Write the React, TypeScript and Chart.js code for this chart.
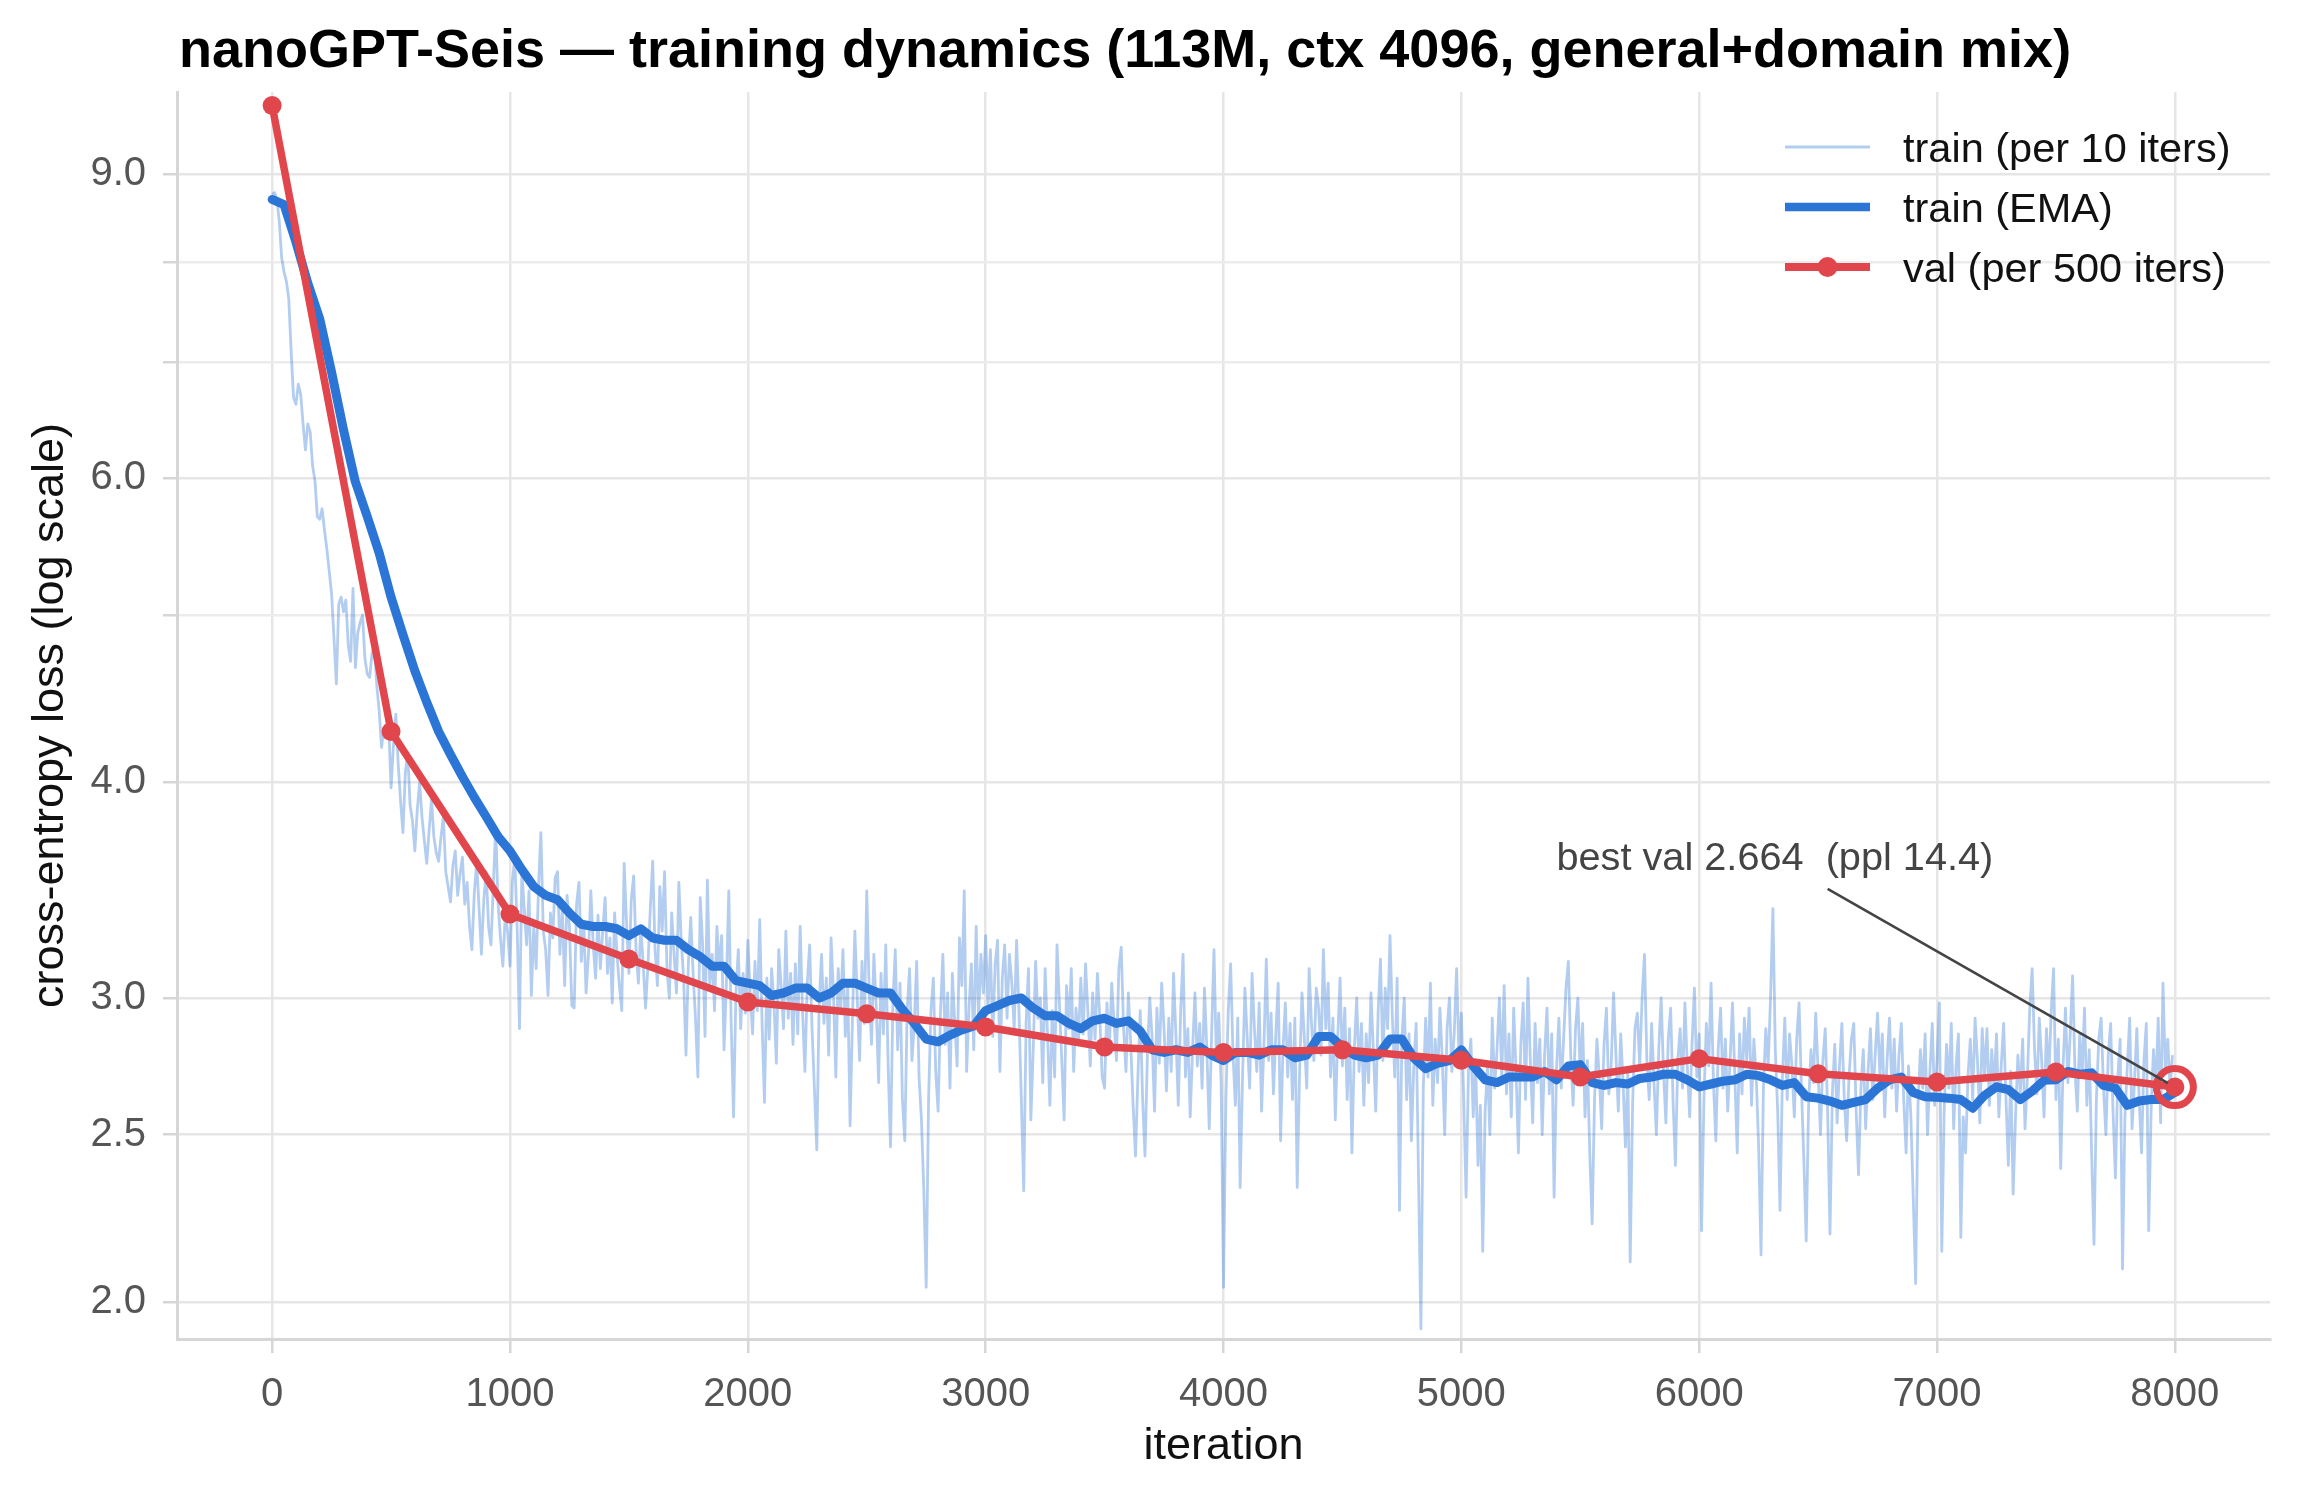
import { useEffect, useRef } from "react"
import { Chart, registerables } from "chart.js"

Chart.register(...registerables)

const FONT = "'Liberation Sans', Arial, sans-serif"
const BLUE = "#2b75d6"
const RED = "#e0464b"
const RAW_BLUE = "rgba(43, 117, 214, 0.36)"

const TITLE = "nanoGPT-Seis — training dynamics (113M, ctx 4096, general+domain mix)"
const X_TICKS = [0, 1000, 2000, 3000, 4000, 5000, 6000, 7000, 8000]
const Y_TICKS = [2, 2.5, 3, 4, 5, 6, 7, 8, 9]
const Y_LABELED = [2, 2.5, 3, 4, 6, 9]

// train loss, one value every 10 iterations (0 .. 7990)
const RAW_STEP = 10
const trainRaw = [
  8.76, 8.78, 8.70, 8.45, 8.05, 7.90, 7.80, 7.62, 7.10, 6.68, 6.62, 6.80, 6.71, 6.45, 6.23, 6.45, 6.38, 6.10, 5.98, 5.70,
  5.68, 5.76, 5.60, 5.46, 5.30, 5.14, 4.85, 4.56, 5.07, 5.12, 5.02, 5.10, 4.80, 4.70, 5.18, 4.66, 4.88, 4.95, 5.00, 4.72,
  4.62, 4.60, 4.75, 4.80, 4.55, 4.40, 4.19, 4.30, 4.25, 4.32, 3.97, 4.20, 4.38, 4.10, 3.90, 3.74, 4.05, 4.16, 3.88, 3.80,
  3.65, 3.85, 4.00, 3.82, 3.70, 3.59, 3.75, 3.91, 3.72, 3.64, 3.60, 3.72, 3.82, 3.55, 3.48, 3.41, 3.58, 3.65, 3.44, 3.54,
  3.62, 3.40, 3.50, 3.30, 3.20, 3.45, 3.60, 3.38, 3.18, 3.42, 3.55, 3.30, 3.22, 3.48, 3.77, 3.40, 3.25, 3.13, 3.35, 3.28,
  3.13, 3.50, 3.62, 3.30, 2.88, 3.55, 3.38, 3.22, 3.46, 3.01, 3.30, 3.12, 3.48, 3.74, 3.28, 3.20, 3.01, 3.36, 3.25, 3.52,
  3.55, 3.18, 3.38, 3.05, 3.44, 3.30, 2.97, 2.96, 3.40, 3.50, 3.15, 3.32, 3.02, 3.18, 3.46, 3.22, 3.08, 3.35, 3.12, 3.28,
  3.43, 3.10, 3.25, 2.98, 3.36, 3.18, 3.05, 2.95, 3.59, 3.32, 3.10, 3.42, 3.53, 3.20, 3.06, 3.30, 3.14, 2.96, 3.13, 3.38,
  3.60, 3.20, 3.05, 3.48, 3.28, 3.55, 3.12, 3.00, 3.36, 3.18, 3.02, 3.50, 3.24, 3.08, 2.78, 3.14, 3.34, 3.10, 2.92, 2.70,
  3.43, 3.22, 2.85, 3.51, 3.05, 3.18, 2.95, 3.30, 3.12, 3.26, 2.80, 3.06, 3.46, 2.90, 2.56, 3.02, 3.20, 2.88, 3.10, 2.94,
  3.24, 3.02, 2.86, 3.15, 2.95, 3.33, 2.90, 2.61, 3.08, 2.84, 3.12, 2.98, 2.75, 3.20, 3.05, 2.88, 3.28, 2.92, 3.10, 2.82,
  3.14, 2.86, 3.30, 2.95, 2.72, 3.06, 3.22, 2.88, 2.66, 2.45, 2.98, 3.18, 2.90, 3.08, 2.78, 3.25, 3.02, 2.70, 3.12, 2.94,
  3.20, 2.85, 3.05, 2.53, 2.92, 3.28, 3.00, 2.76, 3.15, 2.90, 3.46, 3.04, 2.82, 3.18, 2.96, 2.68, 3.10, 2.86, 3.22, 2.74,
  2.46, 2.98, 3.20, 2.80, 3.06, 2.62, 2.48, 2.95, 3.12, 2.76, 2.90, 3.15, 2.70, 2.55, 2.32, 2.04, 2.62, 2.95, 3.08, 2.72,
  2.58, 2.94, 3.18, 2.82, 3.02, 2.66, 3.10, 2.90, 2.74, 3.25, 3.05, 3.46, 2.72, 2.96, 3.14, 2.80, 3.30, 2.92, 3.18, 3.02,
  3.26, 2.96, 3.20, 2.85, 3.14, 3.24, 2.72, 3.08, 3.22, 2.92, 3.18, 3.06, 2.88, 3.24, 2.95, 2.62, 2.32, 2.90, 3.12, 2.55,
  2.80, 3.15, 2.92, 3.00, 2.68, 3.12, 2.86, 2.60, 2.95, 2.70, 3.22, 2.98, 2.76, 2.55, 3.05, 2.88, 3.12, 2.72, 2.96, 2.82,
  3.08, 2.86, 3.14, 2.94, 2.74, 3.02, 2.84, 3.10, 2.92, 2.70, 2.66, 2.98, 2.80, 3.06, 2.90, 2.76, 3.12, 3.21, 2.88, 2.72,
  3.02, 2.82, 2.60, 2.43, 2.70, 2.95, 2.62, 2.43, 2.78, 3.00, 2.84, 2.58, 2.96, 2.75, 3.06, 2.88, 2.65, 2.92, 2.72, 3.10,
  2.85, 2.60, 2.95, 3.18, 2.70, 2.88, 2.56, 2.80, 3.02, 2.74, 2.90, 2.66, 3.04, 2.80, 2.52, 2.86, 3.20, 2.76, 2.94, 2.68,
  2.04, 2.62, 2.95, 3.14, 2.78, 2.60, 2.92, 2.33, 2.70, 3.04, 2.84, 2.66, 3.10, 2.88, 2.72, 2.98, 2.58, 2.82, 3.16, 2.76,
  2.94, 2.64, 2.86, 3.06, 2.48, 2.80, 2.98, 2.70, 2.90, 2.62, 2.92, 2.33, 2.72, 3.02, 2.84, 2.66, 3.12, 2.90, 2.76, 3.04,
  2.96, 2.78, 3.20, 2.88, 3.06, 2.70, 2.92, 2.55, 2.84, 3.08, 2.74, 2.96, 2.62, 2.88, 2.44, 2.80, 3.00, 2.72, 2.90, 2.60,
  2.86, 2.68, 3.02, 2.80, 2.58, 2.94, 3.16, 2.76, 3.04, 2.88, 3.26, 2.92, 2.70, 3.08, 2.26, 2.84, 3.00, 2.62, 2.86, 2.48,
  2.74, 2.90, 2.36, 1.93, 2.66, 2.92, 2.70, 3.06, 2.60, 2.84, 2.68, 2.96, 2.76, 2.50, 2.88, 3.00, 2.72, 2.86, 3.12, 2.78,
  2.94, 2.62, 2.30, 2.72, 2.84, 2.56, 2.76, 2.40, 2.60, 2.14, 2.58, 2.74, 2.50, 2.92, 2.66, 2.80, 3.00, 2.70, 3.05, 2.64,
  2.86, 2.56, 2.96, 2.72, 2.44, 2.82, 2.98, 2.62, 3.08, 2.76, 2.54, 2.90, 2.68, 2.84, 2.50, 2.78, 2.96, 2.64, 2.86, 2.30,
  2.72, 2.92, 2.66, 2.84, 3.04, 3.15, 2.78, 2.60, 2.88, 3.00, 2.70, 2.90, 2.56, 2.76, 2.44, 2.22, 2.62, 2.84, 2.70, 2.52,
  2.82, 2.96, 2.64, 2.74, 3.02, 2.78, 2.58, 2.86, 2.68, 2.46, 2.72, 2.11, 2.60, 2.88, 2.94, 2.74, 3.00, 3.18, 2.76, 2.62,
  2.90, 2.68, 2.50, 2.80, 3.00, 2.72, 2.54, 2.84, 2.96, 2.62, 2.40, 2.76, 2.88, 2.66, 2.98, 2.74, 2.56, 2.82, 3.04, 2.70,
  2.86, 2.20, 2.62, 2.90, 2.74, 3.06, 2.68, 2.48, 2.80, 2.96, 2.66, 2.84, 2.58, 2.76, 2.98, 2.70, 2.44, 2.86, 2.64, 2.92,
  2.76, 2.96, 2.60, 2.84, 2.70, 2.46, 2.13, 2.66, 2.88, 2.74, 3.00, 3.38, 2.80, 2.58, 2.26, 2.70, 2.92, 2.62, 2.86, 2.74,
  2.56, 2.84, 2.98, 2.66, 2.42, 2.17, 2.60, 2.80, 2.68, 2.94, 2.72, 2.50, 2.76, 2.88, 2.58, 2.19, 2.64, 2.82, 2.54, 2.74,
  2.90, 2.62, 2.48, 2.70, 2.84, 2.90, 2.58, 2.37, 2.66, 2.80, 2.52, 2.72, 2.88, 2.62, 2.78, 2.94, 2.70, 2.86, 2.56, 2.76,
  2.92, 2.66, 2.84, 2.58, 2.78, 2.90, 2.62, 2.44, 2.74, 2.56, 2.30, 2.05, 2.60, 2.80, 2.66, 2.86, 2.50, 2.72, 2.90, 2.60,
  2.76, 2.98, 2.14, 2.58, 2.82, 2.66, 2.90, 2.52, 2.74, 2.86, 2.18, 2.56, 2.44, 2.70, 2.84, 2.62, 2.92, 2.76, 2.54, 2.88,
  2.70, 2.88, 2.60, 2.80, 2.66, 2.86, 2.56, 2.74, 2.90, 2.62, 2.40, 2.72, 2.31, 2.56, 2.78, 2.64, 2.84, 2.52, 2.70, 2.96,
  3.12, 2.80, 2.64, 2.92, 2.76, 2.56, 2.88, 2.70, 2.94, 3.12, 2.62, 2.84, 2.39, 2.74, 2.96, 2.68, 2.86, 3.09, 2.72, 2.58,
  2.86, 2.70, 2.96, 2.60, 2.80, 2.44, 2.16, 2.62, 2.84, 2.92, 2.66, 2.50, 2.78, 2.90, 2.58, 2.36, 2.70, 2.84, 2.09, 2.56,
  2.74, 2.92, 2.52, 2.68, 2.88, 2.62, 2.44, 2.76, 2.90, 2.20, 2.58, 2.80, 2.66, 2.92, 2.54, 3.06, 2.72, 2.84, 2.66, 2.78,
]

// smoothed train loss, read every 50 iterations (0 .. 8000)
const EMA_STEP = 50
const trainEma = [
  8.70, 8.64, 8.22, 7.78, 7.42, 6.91, 6.40, 5.97, 5.70, 5.43,
  5.12, 4.87, 4.64, 4.45, 4.28, 4.15, 4.03, 3.92, 3.82, 3.72,
  3.65, 3.56, 3.48, 3.44, 3.42, 3.36, 3.31, 3.30, 3.30, 3.29,
  3.26, 3.29, 3.25, 3.24, 3.24, 3.20, 3.17, 3.13, 3.13, 3.07,
  3.06, 3.05, 3.01, 3.02, 3.04, 3.04, 3.00, 3.02, 3.06, 3.06,
  3.04, 3.02, 3.02, 2.955, 2.90, 2.84, 2.83, 2.855, 2.875, 2.89,
  2.95, 2.97, 2.99, 3.00, 2.96, 2.93, 2.93, 2.90, 2.88, 2.91,
  2.92, 2.90, 2.91, 2.87, 2.80, 2.79, 2.80, 2.79, 2.81, 2.78,
  2.76, 2.79, 2.79, 2.78, 2.80, 2.80, 2.77, 2.78, 2.85, 2.85,
  2.81, 2.78, 2.77, 2.78, 2.84, 2.84, 2.77, 2.73, 2.75, 2.76,
  2.80, 2.74, 2.69, 2.68, 2.70, 2.70, 2.70, 2.72, 2.69, 2.74,
  2.745, 2.68, 2.67, 2.68, 2.675, 2.695, 2.70, 2.71, 2.71, 2.69,
  2.665, 2.675, 2.685, 2.69, 2.71, 2.705, 2.69, 2.67, 2.68, 2.63,
  2.625, 2.615, 2.60, 2.61, 2.62, 2.66, 2.69, 2.70, 2.645, 2.63,
  2.628, 2.625, 2.62, 2.59, 2.635, 2.665, 2.655, 2.62, 2.65, 2.688,
  2.69, 2.72, 2.71, 2.715, 2.67, 2.66, 2.60, 2.615, 2.62, 2.62,
  2.645,
]

// validation loss every 500 iterations (0 .. 8000)
const VAL_STEP = 500
const valLoss = [9.86, 4.28, 3.355, 3.16, 2.984, 2.938, 2.886, 2.81, 2.79, 2.80, 2.761, 2.70, 2.767, 2.712, 2.682, 2.718, 2.664]

const BEST_ITER = 8000
const BEST_VAL = 2.664
const BEST_LABEL = "best val 2.664  (ppl 14.4)"
// annotation text and arrow tail, in data coordinates
const NOTE_AT = { x: 5400, y: 3.56 }
const ARROW_FROM = { x: 6540, y: 3.47 }

const LEGEND = [
  { label: "train (per 10 iters)", color: RAW_BLUE, width: 3, marker: false },
  { label: "train (EMA)", color: BLUE, width: 8.5, marker: false },
  { label: "val (per 500 iters)", color: RED, width: 8, marker: true },
]

const toPoints = (values: number[], step: number) => values.map((y, i) => ({ x: i * step, y }))

const overlayPlugin = {
  id: "overlay",
  afterDraw(chart: any) {
    const { ctx } = chart
    const xs = chart.scales.x
    const ys = chart.scales.y
    ctx.save()

    // title, left-aligned with the plot
    ctx.fillStyle = "#000"
    ctx.font = `bold 54px ${FONT}`
    ctx.textAlign = "left"
    ctx.textBaseline = "alphabetic"
    ctx.fillText(TITLE, 179, 67)

    // ring round the best val point
    const px = xs.getPixelForValue(BEST_ITER)
    const py = ys.getPixelForValue(BEST_VAL)
    ctx.strokeStyle = RED
    ctx.lineWidth = 7
    ctx.beginPath()
    ctx.arc(px, py, 18.5, 0, Math.PI * 2)
    ctx.stroke()

    // annotation arrow (no head) + text
    const ax = xs.getPixelForValue(ARROW_FROM.x)
    const ay = ys.getPixelForValue(ARROW_FROM.y)
    const len = Math.hypot(px - ax, py - ay)
    const shrink = 8
    ctx.strokeStyle = "#444"
    ctx.lineWidth = 2.6
    ctx.beginPath()
    ctx.moveTo(ax, ay)
    ctx.lineTo(px - ((px - ax) / len) * shrink, py - ((py - ay) / len) * shrink)
    ctx.stroke()

    ctx.fillStyle = "#444"
    ctx.font = `39.7px ${FONT}`
    ctx.fillText(BEST_LABEL, xs.getPixelForValue(NOTE_AT.x), ys.getPixelForValue(NOTE_AT.y))

    // legend, top right inside the axes, no frame
    ctx.font = `41.5px ${FONT}`
    LEGEND.forEach((item, i) => {
      const y = 147 + i * 60
      ctx.strokeStyle = item.color
      ctx.lineWidth = item.width
      ctx.lineCap = "butt"
      ctx.beginPath()
      ctx.moveTo(1785, y)
      ctx.lineTo(1870, y)
      ctx.stroke()
      if (item.marker) {
        ctx.fillStyle = item.color
        ctx.beginPath()
        ctx.arc(1827.5, y, 10, 0, Math.PI * 2)
        ctx.fill()
      }
      ctx.fillStyle = "#111"
      ctx.fillText(item.label, 1903, y + 15)
    })

    ctx.restore()
  },
}

function LossChart() {
  const chartRef = useRef<HTMLCanvasElement>(null)
  const chartInstance = useRef<Chart | null>(null)

  useEffect(() => {
    if (!chartRef.current) return
    if (chartInstance.current) chartInstance.current.destroy()

    const ctx = chartRef.current.getContext("2d")
    if (!ctx) return

    chartInstance.current = new Chart(ctx, {
      type: "line",
      data: {
        datasets: [
          {
            label: "train (per 10 iters)",
            data: toPoints(trainRaw, RAW_STEP),
            borderColor: RAW_BLUE,
            borderWidth: 2.8,
            borderJoinStyle: "round",
            pointRadius: 0,
            tension: 0,
            order: 3,
          },
          {
            label: "train (EMA)",
            data: toPoints(trainEma, EMA_STEP),
            borderColor: BLUE,
            borderWidth: 9,
            borderJoinStyle: "round",
            borderCapStyle: "round",
            pointRadius: 0,
            tension: 0,
            order: 2,
          },
          {
            label: "val (per 500 iters)",
            data: toPoints(valLoss, VAL_STEP),
            borderColor: RED,
            backgroundColor: RED,
            borderWidth: 7.5,
            borderJoinStyle: "round",
            pointRadius: 9.5,
            pointBorderWidth: 0,
            pointBackgroundColor: RED,
            tension: 0,
            order: 1,
          },
        ],
      },
      options: {
        responsive: false,
        animation: false,
        layout: { padding: { top: 92, right: 29, left: 0, bottom: 0 } },
        scales: {
          x: {
            type: "linear",
            min: -400,
            max: 8400,
            afterBuildTicks: (scale: any) => {
              scale.ticks = X_TICKS.map((value) => ({ value }))
            },
            afterFit: (scale: any) => {
              scale.height = 160
            },
            ticks: {
              autoSkip: false,
              maxRotation: 0,
              padding: 18,
              color: "#555",
              font: { family: FONT, size: 40 },
              callback: (v: any) => String(v),
            },
            grid: { color: "#e6e6e6", lineWidth: 2.5, tickLength: 14, tickColor: "#d6d6d6", tickWidth: 2.5 },
            border: { display: true, color: "#d6d6d6", width: 3 },
            title: {
              display: true,
              text: "iteration",
              color: "#111",
              font: { family: FONT, size: 45 },
              padding: { top: 0, bottom: 25 },
            },
          },
          y: {
            type: "logarithmic",
            min: 1.904,
            max: 10.04,
            afterBuildTicks: (scale: any) => {
              scale.ticks = Y_TICKS.map((value) => ({ value }))
            },
            afterFit: (scale: any) => {
              scale.width = 177
            },
            ticks: {
              autoSkip: false,
              padding: 17,
              color: "#555",
              font: { family: FONT, size: 40 },
              callback: (v: any) => (Y_LABELED.includes(Number(v)) ? Number(v).toFixed(1) : ""),
            },
            grid: {
              color: (c: any) => (Y_LABELED.includes(c.tick?.value) ? "#e6e6e6" : "#ececec"),
              lineWidth: 2.5,
              tickLength: 14,
              tickColor: "#d6d6d6",
              tickWidth: 2.5,
            },
            border: { display: true, color: "#d6d6d6", width: 3 },
            title: {
              display: true,
              text: "cross-entropy loss (log scale)",
              color: "#111",
              font: { family: FONT, size: 45 },
              padding: { top: 24, bottom: 0 },
            },
          },
        },
        plugins: {
          legend: { display: false },
          title: { display: false },
          tooltip: { enabled: false },
        },
      },
      plugins: [overlayPlugin],
    })

    return () => {
      if (chartInstance.current) {
        chartInstance.current.destroy()
        chartInstance.current = null
      }
    }
  }, [])

  return <canvas ref={chartRef} width={2299} height={1499} style={{ width: 2299, height: 1499, display: "block" }} />
}

export default function App() {
  return (
    <div style={{ position: "fixed", left: 0, top: 0, width: 2299, height: 1499, background: "#fff" }}>
      <LossChart />
    </div>
  )
}
